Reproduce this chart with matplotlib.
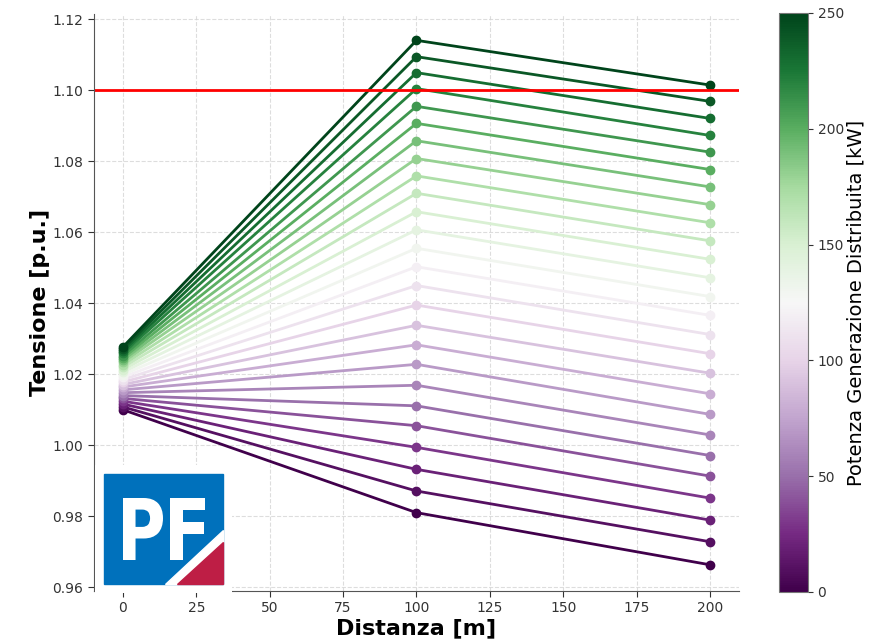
import numpy as np
import matplotlib
matplotlib.use("Agg")
import matplotlib.pyplot as plt
from matplotlib.patches import Rectangle, Polygon, PathPatch
from matplotlib.textpath import TextPath
from matplotlib.font_manager import FontProperties
from matplotlib.transforms import Affine2D

# distances of the three nodes [m]
distanze = [0, 100, 200]
# distributed generation power [kW]
potenze = list(range(0, 260, 10))

# voltage at each node, one value per power level
v_nodo0 = [1.0100, 1.0108, 1.0116, 1.0124, 1.0132, 1.0140, 1.0148, 1.0156,
           1.0164, 1.0171, 1.0178, 1.0185, 1.0192, 1.0199, 1.0206, 1.0213,
           1.0220, 1.0227, 1.0234, 1.0240, 1.0246, 1.0252, 1.0259, 1.0265,
           1.0271, 1.0277]
v_nodo100 = [0.9810, 0.9871, 0.9932, 0.9994, 1.0055, 1.0111, 1.0169, 1.0228,
             1.0283, 1.0338, 1.0395, 1.0450, 1.0503, 1.0555, 1.0607, 1.0658,
             1.0710, 1.0759, 1.0808, 1.0858, 1.0907, 1.0955, 1.1005, 1.1050,
             1.1095, 1.1141]
v_nodo200 = [0.9663, 0.9728, 0.9789, 0.9851, 0.9913, 0.9971, 1.0029, 1.0087,
             1.0145, 1.0203, 1.0258, 1.0312, 1.0366, 1.0419, 1.0472, 1.0524,
             1.0576, 1.0627, 1.0678, 1.0728, 1.0777, 1.0826, 1.0873, 1.0921,
             1.0969, 1.1015]

v_limite = 1.10

fig = plt.figure(figsize=(8.87, 6.42), dpi=100)
ax = fig.add_axes([0.1055, 0.0794, 0.7281, 0.8986])

cmap = plt.get_cmap("PRGn")
norm = matplotlib.colors.Normalize(vmin=0, vmax=250)

for i, p in enumerate(potenze):
    v = [v_nodo0[i], v_nodo100[i], v_nodo200[i]]
    ax.plot(distanze, v, "-o", color=cmap(norm(p)), lw=2, ms=6)

ax.axhline(v_limite, color="red", lw=2)

ax.set_xlabel("Distanza [m]", fontsize=16, fontweight="bold", labelpad=2)
ax.set_ylabel("Tensione [p.u.]", fontsize=16, fontweight="bold", labelpad=2)
ax.grid(True, linestyle="--", color="#d5d5d5", alpha=0.8)
ax.tick_params(labelsize=10, colors="#333333", length=4)
for s in ["top", "right"]:
    ax.spines[s].set_visible(False)
for s in ["left", "bottom"]:
    ax.spines[s].set_color("#555555")

# colorbar
cax = fig.add_axes([0.878, 0.0779, 0.0327, 0.9019])
sm = matplotlib.cm.ScalarMappable(norm=norm, cmap=cmap)
cb = fig.colorbar(sm, cax=cax, ticks=[0, 50, 100, 150, 200, 250])
cb.set_label("Potenza Generazione Distribuita [kW]", fontsize=14, labelpad=2)
cb.ax.tick_params(labelsize=10, colors="#333333")
cb.outline.set_edgecolor("#777777")

# logo
lax = fig.add_axes([95 / 887, 1 - 593 / 642, 137 / 887, 128 / 642], zorder=5)
lax.set_xlim(95, 232)
lax.set_ylim(49, 177)
lax.axis("off")
lax.add_patch(Rectangle((95, 49), 137, 128, color="white"))
lax.add_patch(Rectangle((104.3, 58), 119, 109.7, color="#0071BC"))
lax.add_patch(Polygon([(223.3, 112), (223.3, 58), (165, 58)], color="white"))
lax.add_patch(Polygon([(223.3, 100.3), (223.3, 58), (176.7, 58)], color="#BE1E45"))
fp = FontProperties(family="DejaVu Sans", weight="bold")
for lettera, x0, larg in [("P", 123, 40), ("F", 170, 35)]:
    tp = TextPath((0, 0), lettera, size=1, prop=fp)
    bb = tp.get_extents()
    tr = (Affine2D().translate(-bb.x0, -bb.y0)
          .scale(larg / bb.width, 62 / bb.height).translate(x0, 82))
    lax.add_patch(PathPatch(tr.transform_path(tp), color="white", lw=0))

fig.savefig("out.png", dpi=100)
